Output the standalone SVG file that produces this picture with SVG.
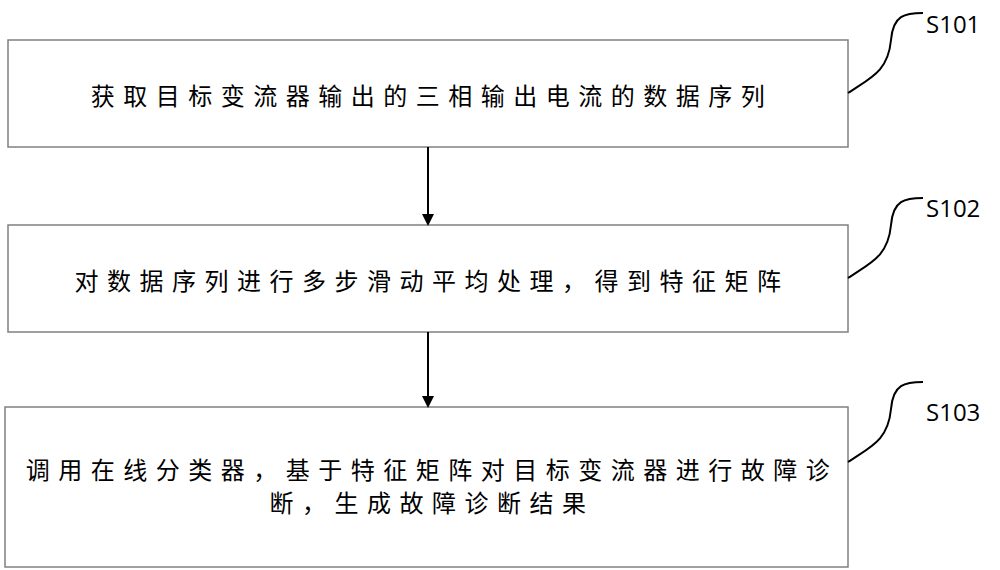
<svg xmlns="http://www.w3.org/2000/svg" width="1000" height="570" viewBox="0 0 1000 570">
<style>
.box{fill:#fff;stroke:#808080;stroke-width:1.5}
.t{font-family:"Noto Sans CJK SC",sans-serif;font-size:24px;letter-spacing:8.5px;fill:#000;text-anchor:middle}
.lb{font-family:"Open Sans",sans-serif;font-size:24px;fill:#000}
.c{fill:none;stroke:#000;stroke-width:2}
</style>
<defs><marker id="ah" markerWidth="12" markerHeight="12" refX="10" refY="6" orient="auto" markerUnits="userSpaceOnUse"><path d="M0,0 L12,6 L0,12 z" fill="#000"/></marker></defs>
<rect width="1000" height="570" fill="#fff"/>
<g id="n1"><rect class="box" x="8" y="40" width="840" height="107"/><text class="t" x="432" y="105">获取目标变流器输出的三相输出电流的数据序列</text></g>
<g id="n2"><rect class="box" x="8" y="225" width="840" height="107"/><text class="t" x="432" y="290">对数据序列进行多步滑动平均处理，得到特征矩阵</text></g>
<g id="n3"><rect class="box" x="5" y="407" width="843" height="160"/><text class="t" x="432" y="479">调用在线分类器，基于特征矩阵对目标变流器进行故障诊</text><text class="t" x="432" y="512">断，生成故障诊断结果</text></g>
<g id="labels"><text class="lb" x="926" y="33">S101</text><text class="lb" x="926" y="217">S102</text><text class="lb" x="926" y="421">S103</text></g>
<g id="connectors">
<line class="c" x1="428" y1="147" x2="428" y2="224" marker-end="url(#ah)"/>
<line class="c" x1="428" y1="332" x2="428" y2="406" marker-end="url(#ah)"/>
<path class="c" d="M848,93 C870,78 888,72 891,40 C893,15 905,13 923,13"/>
<path class="c" d="M848,278 C870,263 888,257 891,225 C893,200 905,198 923,198"/>
<path class="c" d="M848,462 C870,447 888,441 891,409 C893,384 905,382 923,382"/>
</g>
</svg>
